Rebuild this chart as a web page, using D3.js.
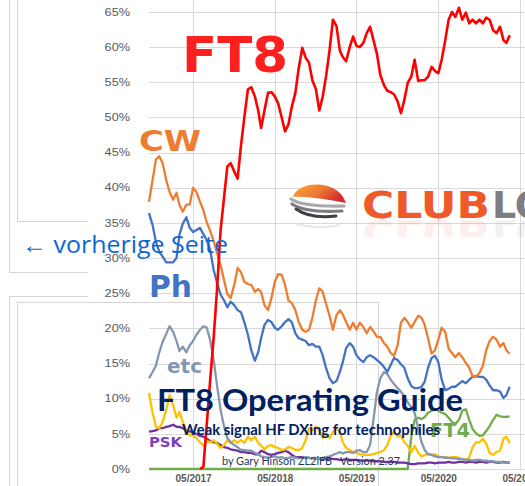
<!DOCTYPE html>
<html>
<head>
<meta charset="utf-8">
<script src="https://cdn.jsdelivr.net/npm/d3@7"></script>
<style>
  body{margin:0;background:#fff;}
  svg{display:block;}
</style>
</head>
<body>
<div id="vis-container"></div>
<script>
//share of QSOs per mode, one value every half month from 16 Oct 2016 (percent)
let ft8 = [null,null,null,null,null,null,null,null,null,null,
  null,null,null,null,null,0,0.3,6.3,12.5,18.7,
  25.5,34.0,38.5,43.0,43.5,42.3,41.3,46.0,50.0,54.0,
  54.3,53.0,51.0,48.5,51.0,53.5,53.6,53.0,52.0,50.0,
  48.0,49.0,51.5,53.5,57.0,59.9,58.5,57.8,55.3,54.0,
  51.0,52.9,55.8,59.6,63.9,63.0,59.5,58.6,58.0,60.0,
  61.5,60.2,60.0,60.6,62.0,62.9,61.0,59.0,56.0,54.6,
  53.8,53.6,53.3,52.3,50.6,52.5,54.9,55.8,58.2,55.2,
  55.3,55.3,55.8,57.2,56.6,56.3,58.2,61.0,63.9,65.0,
  64.3,65.6,63.9,64.9,63.4,63.9,63.4,63.9,63.4,64.2,
  63.9,62.4,62.0,62.9,61.0,60.6,61.7];

let cw = [38.0,41.1,44.0,44.5,43.5,41.1,39.4,38.3,39.3,37.6,
  36.6,37.6,37.6,40.0,39.4,38.0,36.8,35.1,33.9,32.4,
  30.7,29.0,26.9,24.9,24.3,26.2,28.6,28.0,26.6,26.3,
  26.2,25.2,25.6,25.2,23.3,22.6,24.3,26.6,27.7,27.6,
  26.2,24.0,23.6,22.6,20.9,19.8,19.5,19.8,21.5,24.0,
  25.7,25.2,23.5,21.8,19.8,21.9,22.6,22.0,20.9,19.8,
  20.8,19.8,20.8,20.2,19.3,20.2,19.6,18.8,18.8,17.9,
  17.4,16.5,16.1,17.6,20.8,21.5,20.9,20.1,20.9,21.8,
  21.5,20.5,18.6,16.4,16.9,18.4,20.1,19.5,17.1,16.5,
  15.9,16.5,15.9,15.1,14.4,13.2,13.1,13.7,14.7,16.9,
  18.2,18.8,18.4,17.4,17.9,16.9,16.4];

let ph = [36.4,34.7,32.3,30.9,30.2,29.4,29.4,29.4,30.0,33.3,
  34.9,35.8,34.3,33.7,34.0,34.3,33.4,32.6,31.2,28.3,
  26.5,24.8,24.0,23.0,23.8,23.3,22.6,22.3,20.9,19.1,
  16.9,15.4,16.6,18.6,20.5,21.2,20.9,20.1,19.8,20.3,
  20.9,21.3,20.9,19.3,18.6,18.4,18.2,17.6,17.8,17.4,
  17.4,16.2,14.4,12.9,12.2,12.5,13.8,15.2,17.2,17.9,
  17.4,16.2,15.6,15.2,15.9,16.2,15.9,15.5,15.1,14.5,
  13.8,14.8,15.8,15.5,14.9,14.4,12.9,11.8,11.5,11.5,
  11.7,12.4,14.4,15.8,16.1,15.2,12.7,11.2,11.4,11.7,
  11.7,12.1,12.5,12.2,12.7,13.1,13.2,13.1,13.1,12.7,
  11.9,11.2,11.2,11.0,10.1,10.5,11.7];

let etc = [12.9,13.8,14.7,16.6,18.1,19.2,20.3,19.5,18.2,16.8,
  17.4,16.6,17.6,18.2,19.1,19.8,20.3,20.1,18.4,15.5,
  11.9,8.4,6.1,4.4,3.8,3.4,3.1,2.7,2.7,2.6,
  2.6,2.3,2.1,1.8,1.7,1.6,1.7,1.8,1.6,1.7,
  1.5,1.6,1.7,1.6,1.5,1.6,1.7,1.6,1.5,1.6,
  1.5,1.6,1.7,1.8,2.0,2.2,2.4,2.2,2.4,2.4,
  2.3,2.6,2.7,2.4,2.4,3.4,7.0,11.0,12.9,13.8,
  13.5,12.7,12.1,11.5,11.0,10.4,9.5,8.8,8.0,5.8,
  3.8,2.7,2.1,2.0,1.8,1.7,1.7,1.6,1.6,1.5,
  1.5,1.4,1.4,1.3,1.3,1.2,1.3,1.3,1.2,1.2,
  1.1,1.1,1.0,1.0,0.9,0.9,0.9];

let rtty = [10.8,8.0,6.0,5.8,6.7,8.4,10.5,9.1,7.3,8.1,
  6.7,5.5,4.8,4.8,4.4,3.8,3.3,4.0,3.8,4.1,
  3.6,3.0,3.4,4.1,3.7,4.1,3.7,4.1,3.7,4.6,
  4.1,4.6,3.7,3.3,2.8,3.3,3.4,3.1,3.0,2.7,
  2.8,3.1,3.0,2.7,2.7,3.0,4.1,5.8,5.5,6.0,
  5.5,4.4,5.0,4.4,5.3,5.8,5.3,3.8,3.0,2.7,
  2.4,2.3,2.1,2.0,2.0,2.0,2.1,2.3,2.4,2.7,
  3.4,4.7,5.3,4.6,4.7,3.8,3.3,2.4,3.3,2.3,
  1.8,2.0,2.1,2.0,2.1,1.8,1.7,1.7,1.6,1.7,
  1.7,1.6,1.4,1.3,1.6,3.1,3.8,3.8,4.3,3.6,
  2.3,2.0,2.4,2.6,4.3,4.6,3.7];

let psk = [5.3,5.4,5.5,5.8,5.8,6.0,6.1,6.3,6.0,6.0,
  5.8,5.5,5.4,5.1,5.0,4.7,4.6,4.3,4.0,3.8,
  3.7,3.4,3.1,3.0,2.8,2.7,2.6,2.4,2.4,2.3,
  2.3,2.1,2.1,2.6,2.4,2.1,2.0,2.1,2.3,2.4,
  2.6,2.4,2.0,1.7,1.7,1.7,1.6,1.6,1.5,1.5,
  1.5,1.4,1.4,1.5,1.4,1.4,1.3,1.3,1.4,1.3,
  1.3,1.3,1.2,1.2,1.2,1.2,1.1,1.1,1.1,1.0,
  1.0,1.0,1.0,0.9,0.9,0.9,0.8,0.7,0.7,0.8,
  0.8,0.8,0.9,0.9,0.8,0.9,0.9,0.9,1.0,0.9,
  0.9,1.0,1.0,0.9,1.0,1.0,0.9,1.0,1.0,0.9,
  1.0,1.0,0.9,0.9,1.0,0.9,0.9];

let ft4 = [0,0,0,0,0,0,0,0,0,0,
  0,0,0,0,0,0,0,0,0,0,
  0,0,0,0,0,0,0,0,0,0,
  0,0,0,0,0,0,0,0,0,0,
  0,0,0,0,0,0,0,0,0,0,
  0,0,0,0,0,0,0,0,0,0,
  0,0,0,0,0,0,0,0,0,0,
  0,0,0,0,0,0,0,4.5,7.0,7.3,
  7.1,7.4,8.0,8.3,8.5,8.3,8.0,7.8,7.3,6.7,
  6.4,7.0,8.3,8.5,7.0,5.7,5.1,4.7,4.8,5.4,
  6.1,7.0,7.7,7.5,7.4,7.4,7.5];

//tick labels
let yTicks = [0,5,10,15,20,25,30,35,40,45,50,55,60,65];
let xTicks = ["05/2017","05/2018","05/2019","05/2020","05/2021"];

let W = 525, H = 486;

//create svg container
let svg = d3.select("#vis-container")
  .append("svg")
  .attr("width", W)
  .attr("height", H);

//half month dates of the samples
let dates = d3.range(ft8.length).map(i=>{
  return i%2==0 ? new Date(2016, 9+i/2, 16) : new Date(2016, 9+(i+1)/2, 1);
});
let parseTick = d3.timeParse("%m/%Y");

//scales
let x = d3.scaleTime()
  .domain([new Date(2016,9,16), new Date(2021,4,1)])
  .range([149,520]);

let y = d3.scaleLinear()
  .domain([0,65])
  .range([469,12]);

//stretch text a bit wider, the screenshot is not square
function stretch(sel, k){
  sel.each(function(){
    let w = this.getComputedTextLength();
    d3.select(this).attr("textLength", w*k).attr("lengthAdjust","spacingAndGlyphs");
  });
}

//gridlines
let gGrid = svg.append("g");
gGrid.selectAll("line.h").data(yTicks).enter()
  .append("line")
  .attr("class","h")
  .attr("x1",149).attr("x2",W)
  .attr("y1",d=>{return Math.round(y(d))+0.5;})
  .attr("y2",d=>{return Math.round(y(d))+0.5;})
  .attr("stroke","#d9d9d9");
gGrid.selectAll("line.v").data(xTicks).enter()
  .append("line")
  .attr("class","v")
  .attr("x1",d=>{return Math.round(x(parseTick(d)))+0.5;})
  .attr("x2",d=>{return Math.round(x(parseTick(d)))+0.5;})
  .attr("y1",0).attr("y2",y(0))
  .attr("stroke","#d9d9d9");

//boxes of the web page behind the chart
let boxLines = [[9.5,0,9.5,272.5],[9,272.5,88,272.5],[17.5,0,17.5,221.5],[17,221.5,88,221.5],
  [9,296.5,88,296.5],[9.5,296,9.5,H],[17,302.5,378,302.5],[17.5,302,17.5,H],[378.5,302,378.5,H]];
svg.append("g").selectAll("line").data(boxLines).enter()
  .append("line")
  .attr("x1",d=>d[0]).attr("y1",d=>d[1]).attr("x2",d=>d[2]).attr("y2",d=>d[3])
  .attr("stroke","#d4d4d4");

//y axis labels
let yAxis = d3.axisLeft(y)
  .tickValues(yTicks)
  .tickFormat(d=>{return d+"%";})
  .tickSize(0)
  .tickPadding(19);
let yAxisGroup = svg.append("g")
  .attr("transform","translate(149,0)")
  .attr("font-family","DejaVu Sans")
  .attr("font-size","11px")
  .call(yAxis);
yAxisGroup.select(".domain").remove();
yAxisGroup.selectAll("text").attr("fill","#595959");
stretch(yAxisGroup.selectAll("text"), 1.27);

//x axis labels
let xAxis = d3.axisBottom(x)
  .tickValues(xTicks.map(parseTick))
  .tickFormat(d3.timeFormat("%m/%Y"))
  .tickSize(0)
  .tickPadding(6);
let xAxisGroup = svg.append("g")
  .attr("transform",`translate(0,${y(0)})`)
  .attr("font-family","DejaVu Sans")
  .attr("font-size","10.5px")
  .attr("font-weight","bold")
  .call(xAxis);
xAxisGroup.select(".domain").remove();
xAxisGroup.selectAll("text").attr("fill","#595959");

//the mode lines
let series = [
  {name:"FT4", values:ft4, color:"#70ad47"},
  {name:"PSK", values:psk, color:"#7030a0"},
  {name:"RTTY", values:rtty, color:"#ffc000"},
  {name:"etc", values:etc, color:"#8497b0"},
  {name:"Ph", values:ph, color:"#4472c4"},
  {name:"CW", values:cw, color:"#ed7d31"},
  {name:"FT8", values:ft8, color:"#ff0000"}
];

let line = d3.line()
  .defined(d=>{return d[1]!=null;})
  .x(d=>{return x(d[0]);})
  .y(d=>{return y(d[1]);});

svg.append("g").selectAll("path").data(series).enter()
  .append("path")
  .attr("d", s=>{return line(s.values.map((v,i)=>[dates[i],v]));})
  .attr("fill","none")
  .attr("stroke", s=>s.color)
  .attr("stroke-width", s=>{return s.name=="FT8" ? 2.6 : 2.3;})
  .attr("stroke-linejoin","round");

//mode names written on the chart
let modeLabels = [
  {text:"FT8", x:182, y:72, size:50, len:106, color:"#ff1f1f"},
  {text:"CW", x:139, y:151, size:29, len:62, color:"#ed7d31"},
  {text:"Ph", x:149, y:297, size:30, len:43, color:"#4472c4"},
  {text:"etc", x:167, y:373, size:20, len:35, color:"#8497b0"},
  {text:"PSK", x:149, y:447, size:14, len:33, color:"#7f3fbf"},
  {text:"FT4", x:430, y:437, size:19, len:40, color:"#70ad47"}
];
svg.append("g").selectAll("text").data(modeLabels).enter()
  .append("text")
  .attr("x",d=>d.x).attr("y",d=>d.y)
  .attr("font-family","DejaVu Sans")
  .attr("font-weight","bold")
  .attr("font-size",d=>d.size+"px")
  .attr("textLength",d=>d.len)
  .attr("lengthAdjust","spacingAndGlyphs")
  .attr("fill",d=>d.color)
  .text(d=>d.text);

//club log logo
let defs = svg.append("defs");
let grad = defs.append("linearGradient").attr("id","dome").attr("x1","0").attr("x2","1").attr("y1","0").attr("y2","0.4");
grad.append("stop").attr("offset","0").attr("stop-color","#f8a63a");
grad.append("stop").attr("offset","0.55").attr("stop-color","#ee7a32");
grad.append("stop").attr("offset","1").attr("stop-color","#d42f30");
defs.append("clipPath").attr("id","refl").append("rect").attr("x",280).attr("y",219).attr("width",260).attr("height",18);

let gLogo = svg.append("g");
gLogo.append("path")
  .attr("d","M293,197 C297,181 338,178 346,203 C330,200 306,196 293,197 Z")
  .attr("fill","url(#dome)");
let swoosh = [
  {d:"M291,199 Q302,207 344,206", c:"#a9a9ad", w:3.2},
  {d:"M292,204 Q305,213 342,211", c:"#7b7b80", w:3.2},
  {d:"M296,209 Q310,219 336,216", c:"#3f3f44", w:3}
];
gLogo.selectAll("path.sw").data(swoosh).enter()
  .append("path")
  .attr("class","sw")
  .attr("d",d=>d.d)
  .attr("fill","none")
  .attr("stroke",d=>d.c)
  .attr("stroke-width",d=>d.w)
  .attr("stroke-linecap","round");
gLogo.append("path")
  .attr("d","M296,224 Q318,230 340,225")
  .attr("fill","none").attr("stroke","#e6e6e6").attr("stroke-width",2);

let logoText = gLogo.append("g");
logoText.append("text")
  .attr("x",362).attr("y",218)
  .attr("font-family","DejaVu Sans").attr("font-weight","bold").attr("font-size","38px")
  .attr("textLength",128).attr("lengthAdjust","spacingAndGlyphs")
  .attr("fill","#f05a2b").text("CLUB");
logoText.append("text")
  .attr("x",492).attr("y",218)
  .attr("font-family","DejaVu Sans").attr("font-weight","bold").attr("font-size","38px")
  .attr("fill","#7d7d82").text("LOG");

//faint mirror image under the letters
gLogo.append("g")
  .attr("clip-path","url(#refl)")
  .append("g")
  .attr("transform","translate(0,438) scale(1,-1)")
  .attr("opacity",0.09)
  .html(logoText.html());

//title of the guide
let gTitle = svg.append("g").attr("fill","#002060").attr("font-family","Lato");
gTitle.append("text")
  .attr("x",157).attr("y",411)
  .attr("font-weight","bold").attr("font-size","31px")
  .attr("textLength",306).attr("lengthAdjust","spacingAndGlyphs")
  .text("FT8 Operating Guide");
gTitle.append("text")
  .attr("x",182).attr("y",435)
  .attr("font-weight","bold").attr("font-size","15.5px")
  .attr("textLength",258).attr("lengthAdjust","spacingAndGlyphs")
  .text("Weak signal HF DXing for technophiles");
gTitle.append("text")
  .attr("x",222).attr("y",465)
  .attr("font-size","11.5px")
  .attr("fill","#1f3864")
  .style("white-space","pre")
  .attr("textLength",178).attr("lengthAdjust","spacingAndGlyphs")
  .text("by Gary Hinson ZL2iFB   Version 2.37");

//link of the page
svg.append("text")
  .attr("x",22).attr("y",253)
  .attr("font-family","Open Sans")
  .attr("font-size","24px")
  .attr("textLength",206).attr("lengthAdjust","spacingAndGlyphs")
  .attr("fill","#0b66d4")
  .text("\u2190 vorherige Seite");
</script>
</body>
</html>
